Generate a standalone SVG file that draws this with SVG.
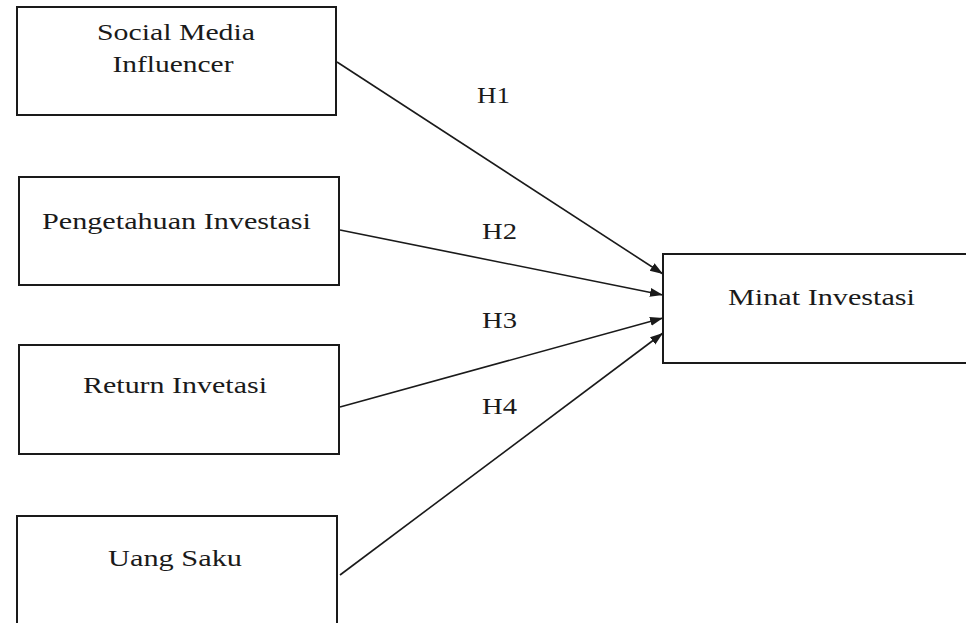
<svg xmlns="http://www.w3.org/2000/svg" width="966" height="623" viewBox="0 0 966 623">
<style>
.box{fill:#fff;stroke:#1a1a1a;stroke-width:2}
.lbl{font-family:"Liberation Serif","Times New Roman",serif;font-size:24px;fill:#1a1a1a;text-anchor:middle}
.edge{stroke:#1a1a1a;stroke-width:1.6;fill:none;marker-end:url(#ah)}
</style>
<defs>
<marker id="ah" markerUnits="userSpaceOnUse" markerWidth="14" markerHeight="10" refX="13" refY="4.5" orient="auto">
<path d="M0,0 L13,4.5 L0,9 z" fill="#1a1a1a"/>
</marker>
</defs>
<rect width="966" height="623" fill="#fff"/>
<g id="n1"><rect class="box" x="17" y="7" width="319" height="108"/>
<text class="lbl" x="176" y="40" textLength="158" lengthAdjust="spacingAndGlyphs">Social Media</text>
<text class="lbl" x="173" y="72" textLength="121" lengthAdjust="spacingAndGlyphs">Influencer</text></g>
<g id="n2"><rect class="box" x="19" y="177" width="320" height="108"/>
<text class="lbl" x="176.5" y="229" textLength="269" lengthAdjust="spacingAndGlyphs">Pengetahuan Investasi</text></g>
<g id="n3"><rect class="box" x="19" y="345" width="320" height="109"/>
<text class="lbl" x="175" y="393" textLength="184" lengthAdjust="spacingAndGlyphs">Return Invetasi</text></g>
<g id="n4"><rect class="box" x="17" y="516" width="320" height="120"/>
<text class="lbl" x="175" y="566" textLength="134" lengthAdjust="spacingAndGlyphs">Uang Saku</text></g>
<g id="n5"><rect class="box" x="663" y="254" width="320" height="109"/>
<text class="lbl" x="821.5" y="305" textLength="187" lengthAdjust="spacingAndGlyphs">Minat Investasi</text></g>
<g id="connectors">
<line class="edge" x1="337" y1="62" x2="663" y2="274"/>
<line class="edge" x1="340" y1="230" x2="663" y2="295"/>
<line class="edge" x1="340" y1="407" x2="663" y2="318"/>
<line class="edge" x1="340" y1="575" x2="663" y2="333"/>
<text class="lbl" x="493.5" y="103" textLength="33" lengthAdjust="spacingAndGlyphs">H1</text>
<text class="lbl" x="499.5" y="239" textLength="35" lengthAdjust="spacingAndGlyphs">H2</text>
<text class="lbl" x="499.5" y="328" textLength="35" lengthAdjust="spacingAndGlyphs">H3</text>
<text class="lbl" x="499.5" y="414" textLength="35" lengthAdjust="spacingAndGlyphs">H4</text>
</g>
</svg>
